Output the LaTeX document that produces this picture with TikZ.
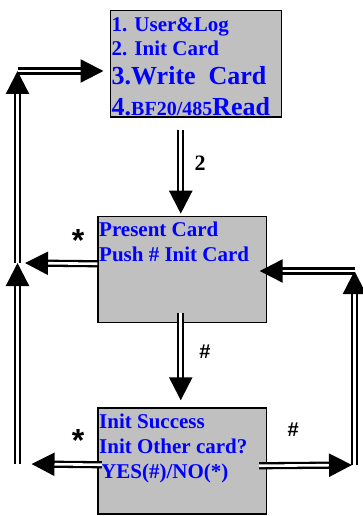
\documentclass[tikz,border=0pt]{standalone}
\usepackage{fontspec}
\setmainfont{Liberation Serif}
\newfontfamily\arialfont{Liberation Sans}
\usetikzlibrary{arrows.meta, calc}
\definecolor{color_box}{RGB}{192,192,192}
\definecolor{color_txt}{RGB}{0,0,255}
\begin{document}
\begin{tikzpicture}[x=1pt, y=-1pt,
	screen/.style={draw=black, line width=1.5pt, fill=color_box, inner sep=0pt, anchor=north west},
	screen text/.style={anchor=base west, inner sep=0pt, text=color_txt, font=\bfseries\fontsize{21}{25}\selectfont},
	key/.style={inner sep=0pt, text=black},
	dbl/.style={double, line width=2.3pt, double distance=2.6pt, -{Triangle[length=23pt, width=23pt]}}]
	\useasboundingbox (0,0) rectangle (363,516);
	% MENU
	\node[screen, minimum width=171pt, minimum height=106pt] (menu) at (109.5,10) {};
	\node[screen text] (menu1) at (111.5,31.7) {1. User\&Log};
	\node[screen text] (menu2) at (111.5,55.7) {2. Init Card};
	\node[screen text, font=\bfseries\fontsize{26}{30}\selectfont] (menu3) at (111.5,85) {3.Write\ \ Card};
	\node[screen text, font=\bfseries\fontsize{20}{24}\selectfont] (menu4) at (111.5,115)
		{{\fontsize{26}{30}\selectfont 4.}BF20/485{\fontsize{26}{30}\selectfont Read}};
	% PRESENT CARD
	\node[screen, minimum width=168.4pt, minimum height=106pt] (present) at (97.3,215.7) {};
	\node[screen text] (present1) at (99,236.7) {Present Card};
	\node[screen text] (present2) at (99,261.7) {Push \# Init Card};
	% INIT SUCCESS
	\node[screen, minimum width=168.4pt, minimum height=106pt] (done) at (97.3,407.3) {};
	\node[screen text] (done1) at (99,428.3) {Init Success};
	\node[screen text] (done2) at (99,453.3) {Init Other card?};
	\node[screen text] (done3) at (101,478.3) {YES(\#)/NO(*)};
	% CORNERS
	\coordinate (lb) at (17.5,464);
	\coordinate (lm) at (17.5,263);
	\coordinate (lt) at (17.5,71);
	\coordinate (rb) at (354.5,465);
	\coordinate (rt) at (354.5,271);
	% ARROWS
	\draw[dbl] ($(menu.south -| present.north)+(-1.5,12)$) -- ($(present.north)+(-1.5,-2)$);
	\draw[dbl] ($(present.south)+(-1.5,-10)$) -- ($(done.north)+(-1.5,-7)$);
	\draw[dbl] ($(present.west)+(0,-5.7)$) -- ($(lm)+(7.5,0)$);
	\draw[dbl] (lb) -- (lm);
	\draw[dbl] (lm) -- (lt);
	\draw[dbl, shorten >=6pt] (lt) -- (lt -| menu.west);
	\draw[dbl] ($(done.west)+(4.5,3.7)$) -- ($(lb)+(14,0)$);
	\draw[dbl] ($(done.east)+(-8,4.7)$) -- ($(rb)+(-2.5,0)$);
	\draw[dbl] (rb) -- (rt);
	\draw[dbl] (rt) -- ($(rt -| present.east)+(-7.5,0)$);
	% KEYS
	\node[key, font=\bfseries\fontsize{22}{26}\selectfont] (key2) at (200,163.3) {2};
	\node[key, font=\arialfont\bfseries\fontsize{20}{24}\selectfont] (keyhash1) at (205,352) {\#};
	\node[key, font=\arialfont\bfseries\fontsize{20}{24}\selectfont] (keyhash2) at (293.3,430) {\#};
	\node[key, font=\arialfont\bfseries\fontsize{32}{36}\selectfont] (keystar1) at (78,240) {*};
	\node[key, font=\arialfont\bfseries\fontsize{32}{36}\selectfont] (keystar2) at (78,440) {*};
\end{tikzpicture}
\end{document}
